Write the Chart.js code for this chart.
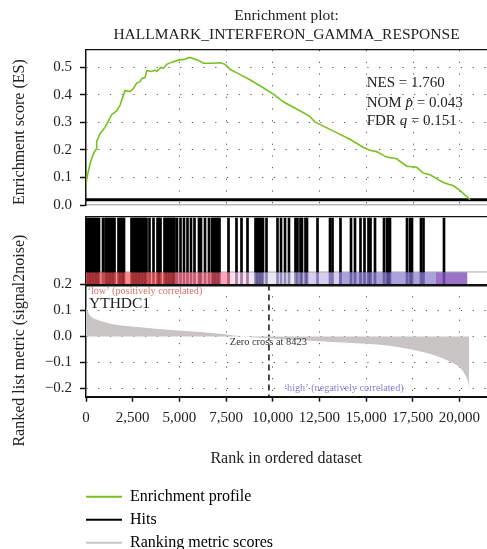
<!DOCTYPE html>
<html>
<head>
<meta charset="utf-8">
<script src="https://cdn.jsdelivr.net/npm/chart.js@4.4.1/dist/chart.umd.min.js"></script>
<style>
  html, body { margin: 0; padding: 0; background: #fff; overflow: hidden; }
  #page { position: relative; width: 487px; height: 549px; }
  #page canvas { position: absolute; left: 0; }
</style>
</head>
<body>
<div id="page">
  <canvas id="es-chart" width="487" height="222" style="top:0"></canvas>
  <canvas id="hits-chart" width="487" height="78" style="top:212px"></canvas>
  <canvas id="metric-chart" width="487" height="250" style="top:228px"></canvas>
  <canvas id="legend-chart" width="487" height="90" style="top:478px"></canvas>
</div>
<script>
const titleLines = ['Enrichment plot:', 'HALLMARK_INTERFERON_GAMMA_RESPONSE'];
const rankMax = 21450;
const xTicks = [0, 2500, 5000, 7500, 10000, 12500, 15000, 17500, 20000];
const esTicks = [0, 0.1, 0.2, 0.3, 0.4, 0.5];
const metricTicks = [0.2, 0.1, 0, -0.1, -0.2];

// running enrichment score
const esRanks = [0, 70, 214, 390, 535, 570, 750, 1020, 1195, 1373, 1640, 1822, 2090, 2358, 2535, 2712, 2894, 2980, 3162, 3250,
  3516, 3698, 3784, 4000, 4143, 4320, 4588, 5038, 5215, 5537, 5928, 6287, 6732, 7182, 7450, 7718, 8072, 8790, 9503, 10040,
  10575, 11610, 11970, 12240, 13400, 14113, 14826, 15185, 15540, 16080, 16616, 17150, 17690, 18040, 18400, 19114, 19650, 20008, 20545];
const esValues = [0.076, 0.105, 0.150, 0.185, 0.202, 0.231, 0.259, 0.282, 0.305, 0.328, 0.342, 0.363, 0.416, 0.412, 0.423, 0.443, 0.448, 0.460, 0.463, 0.488,
  0.485, 0.490, 0.485, 0.500, 0.497, 0.511, 0.519, 0.528, 0.528, 0.536, 0.528, 0.515, 0.515, 0.517, 0.511, 0.492, 0.480, 0.454, 0.425, 0.402,
  0.374, 0.336, 0.322, 0.302, 0.263, 0.239, 0.210, 0.199, 0.194, 0.174, 0.168, 0.141, 0.137, 0.116, 0.110, 0.082, 0.070, 0.053, 0.019];
const esBaseline = 0.019;

// positions of gene set members in the ranked list
const hitRanks = [53, 134, 214, 294, 374, 455, 535, 615, 695, 909, 1043, 1123, 1204, 1284, 1364, 1444, 1525,
  1738, 1819, 1899, 1979, 2033, 2434, 2514, 2594, 2675, 2755, 2835, 2915, 2995, 3076, 3156, 3236, 3397, 3611,
  3825, 3905, 3985, 4199, 4279, 4359, 4440, 4520, 4600, 4680, 4734, 4868, 5055, 5242, 5429, 5616, 5804, 6044,
  6151, 6365, 6579, 6740, 6820, 6900, 6981, 7061, 7141, 7623, 8050, 8318, 8639, 9067, 9147, 9227, 9307, 9388,
  9468, 9655, 10244, 10431, 10645, 10858, 11206, 11313, 11474, 11554, 11741, 11821, 12383, 13052, 13186, 13613,
  14175, 14389, 14683, 14897, 15111, 15218, 15459, 15940, 16100, 16181, 16261, 17170, 17331, 17438, 17919, 18053, 19149];

// colour bar under the hits
const bandStarts = [0, 4707, 7703, 8773, 11287, 13533, 18722, 20406, 21450];
const bandColors = ['#ff8a8a', '#ffa6bf', '#ffdde8', '#ece8f5', '#d6cdf0', '#aaa2de', '#9a72c8', 'rgba(0,0,0,0)'];

// ranked list metric (signal2noise)
const metricRanks = [0, 100, 215, 570, 1100, 1640, 2450, 3430, 4950, 6100, 7450, 8440, 10000, 12500, 15000, 16500,
  17500, 18700, 19570, 20000, 20290, 20470, 20530];
const metricValues = [0.112, 0.095, 0.081, 0.065, 0.053, 0.045, 0.038, 0.032, 0.023, 0.017, 0.009, 0.0, -0.009, -0.018,
  -0.028, -0.038, -0.051, -0.073, -0.099, -0.118, -0.144, -0.176, -0.205];
const metricMax = 0.2;
const metricMin = -0.2315;
const zeroCrossRank = 9800;

const legendLabels = ['Enrichment profile', 'Hits', 'Ranking metric scores'];

const GREEN = '#78c11f';
const GRAY = '#c9c5c5';
const INK = '#222';
const DOT = [1.2, 10.5];
const STRIPE_TOP = 0.194;
const HIT_TOP = 0.98;

Chart.defaults.font.family = '"Liberation Serif", "Times New Roman", serif';
Chart.defaults.color = INK;

const fixWidth = w => scale => { scale.width = w; };
const fixHeight = h => scale => { scale.height = h; };
const setTicks = values => scale => { scale.ticks = values.map(v => ({value: v})); };
const dotGrid = hidden => ctx => (ctx.tick && hidden.includes(ctx.tick.value)) ? 'rgba(0,0,0,0)' : '#555';
const fmtMetric = v => v === 0 ? '0.0' : (v < 0 ? '\u2212' : '') + Math.abs(v).toFixed(1);

// text written at data coordinates, parts can be italic
const notesPlugin = notes => ({
  id: 'notes',
  afterDatasetsDraw(chart) {
    const {ctx, scales: {x, y}} = chart;
    ctx.save();
    ctx.textAlign = 'left';
    ctx.textBaseline = 'alphabetic';
    notes.forEach(note => {
      let px = x.getPixelForValue(note.x);
      const py = y.getPixelForValue(note.y);
      ctx.fillStyle = note.color;
      note.parts.forEach(([text, italic]) => {
        ctx.font = `${italic ? 'italic ' : ''}${note.size}px "Liberation Serif"`;
        ctx.fillText(text, px, py);
        px += ctx.measureText(text).width;
      });
    });
    ctx.restore();
  }
});

const statNotes = [
  {x: 15015, y: 0.428, size: 15, color: INK, parts: [['NES = 1.760', false]]},
  {x: 15015, y: 0.355, size: 15, color: INK, parts: [['NOM ', false], ['p\u0302', true], [' = 0.043', false]]},
  {x: 15015, y: 0.292, size: 15, color: INK, parts: [['FDR ', false], ['q', true], [' = 0.151', false]]}
];

const metricNotes = [
  {x: 80, y: 0.163, size: 10.2, color: '#dc6f6a', parts: [['\u2018low\u2019 (positively correlated)', false]]},
  {x: 160, y: 0.11, size: 15.5, color: INK, parts: [['YTHDC1', false]]},
  {x: 7703, y: -0.0327, size: 10.4, color: '#333', parts: [['Zero cross at 8423', false]]},
  {x: 10591, y: -0.211, size: 10.2, color: '#8b80d6', parts: [['\u2018high\u2019 (negatively correlated)', false]]}
];

const hiddenAxis = (position, width) => ({
  type: 'linear', position, min: 0, max: rankMax, offset: false,
  afterFit: fixHeight(0),
  ticks: {display: false},
  grid: {display: false, offset: false},
  border: {color: '#111', width}
});

// enrichment score panel
new Chart(document.getElementById('es-chart'), {
  type: 'line',
  data: {
    datasets: [
      {label: 'Enrichment profile', data: esRanks.map((r, i) => ({x: r, y: esValues[i]})),
        borderColor: GREEN, borderWidth: 1.6, pointRadius: 0, tension: 0},
      {label: 'baseline', data: [{x: 0, y: esBaseline}, {x: rankMax, y: esBaseline}],
        borderColor: '#000', borderWidth: 3, pointRadius: 0}
    ]
  },
  options: {
    responsive: false,
    animation: false,
    layout: {padding: {left: 0, right: 0, top: 0, bottom: 8}},
    plugins: {
      legend: {display: false},
      tooltip: {enabled: false},
      title: {display: true, fullSize: false, text: titleLines, color: INK,
        font: {size: 15.5, weight: 'normal', lineHeight: 1.23}, padding: {top: 6.5, bottom: 5.4}}
    },
    scales: {
      x: {type: 'linear', min: 0, max: rankMax, afterBuildTicks: setTicks(xTicks), afterFit: fixHeight(0),
        ticks: {display: false}, grid: {color: dotGrid([0, 2500]), drawTicks: false},
        border: {color: '#bbb', width: 1.5, dash: DOT}},
      xTop: hiddenAxis('top', 1.2),
      y: {min: 0, max: 0.563, afterBuildTicks: setTicks(esTicks), afterFit: fixWidth(86),
        ticks: {color: INK, font: {size: 15}, padding: 8, autoSkip: false, callback: v => v.toFixed(1)},
        grid: {color: dotGrid([0]), tickColor: '#111', tickLength: 6, tickWidth: 1.5},
        border: {color: '#111', width: 1.5, dash: DOT},
        title: {display: true, align: 'start', text: 'Enrichment score (ES)', color: INK, font: {size: 16},
          padding: {top: 10, bottom: 0}}}
    }
  },
  plugins: [notesPlugin(statNotes)]
});

// hits and colour bar
new Chart(document.getElementById('hits-chart'), {
  type: 'bar',
  data: {
    datasets: [
      {type: 'line', label: 'stripe', data: bandStarts.map(r => ({x: r, y: STRIPE_TOP})), fill: {value: 0},
        borderColor: '#aaa', borderWidth: 1, pointRadius: 0, order: 3,
        segment: {backgroundColor: c => bandColors[c.p0DataIndex]}},
      {label: 'Hits', data: hitRanks.map(r => ({x: r, y: [STRIPE_TOP, HIT_TOP]})), backgroundColor: '#000',
        barThickness: 2, stack: 'hits', order: 1},
      {label: 'hit tint', data: hitRanks.map(r => ({x: r, y: [0, STRIPE_TOP]})),
        backgroundColor: c => (c.raw && c.raw.x < 8000) ? 'rgba(110,0,10,0.45)' : 'rgba(30,20,100,0.45)',
        barThickness: 2, stack: 'hits', order: 2}
    ]
  },
  options: {
    responsive: false,
    animation: false,
    layout: {padding: {left: 0, right: 0, top: 4.7, bottom: 4.7}},
    plugins: {legend: {display: false}, tooltip: {enabled: false}},
    scales: {
      x: hiddenAxis('bottom', 1.5),
      xTop: hiddenAxis('top', 1.2),
      y: {min: 0, max: 1, stacked: false, afterFit: fixWidth(86), ticks: {display: false}, grid: {display: false},
        border: {color: '#111', width: 1.5}}
    }
  }
});

// ranked list metric panel
new Chart(document.getElementById('metric-chart'), {
  type: 'line',
  data: {
    datasets: [
      {label: 'Ranking metric scores', data: metricRanks.map((r, i) => ({x: r, y: metricValues[i]})),
        fill: {value: 0}, backgroundColor: GRAY, borderColor: GRAY, borderWidth: 0, pointRadius: 0,
        cubicInterpolationMode: 'monotone'},
      {label: 'zero cross', data: [{x: zeroCrossRank, y: metricMax}, {x: zeroCrossRank, y: metricMin}],
        borderColor: '#111', borderWidth: 1.5, borderDash: [6, 4], pointRadius: 0}
    ]
  },
  options: {
    responsive: false,
    animation: false,
    layout: {padding: {left: 0, right: 0, top: 56.5, bottom: 10}},
    plugins: {legend: {display: false}, tooltip: {enabled: false}},
    scales: {
      x: {type: 'linear', min: 0, max: rankMax, afterBuildTicks: setTicks(xTicks), afterFit: fixHeight(71.3),
        ticks: {color: INK, font: {size: 15}, padding: 7, maxRotation: 0, autoSkip: false,
          callback: v => v.toLocaleString('en-US')},
        grid: {color: dotGrid([0, 2500]), tickColor: '#111', tickLength: 5, tickWidth: 1.5},
        border: {color: '#111', width: 2, dash: DOT},
        title: {display: true, text: 'Rank in ordered dataset', color: INK, font: {size: 16}, padding: {top: 0, bottom: 0}}},
      xTop: hiddenAxis('top', 2),
      y: {min: metricMin, max: metricMax, afterBuildTicks: setTicks(metricTicks), afterFit: fixWidth(86),
        ticks: {color: INK, font: {size: 15}, padding: 8, autoSkip: false, callback: fmtMetric},
        grid: {color: dotGrid([0.2]), tickColor: '#111', tickLength: 6, tickWidth: 1.5},
        border: {color: '#111', width: 1.5, dash: DOT},
        title: {display: true, text: 'Ranked list metric (signal2noise)', color: INK, font: {size: 16}, padding: {top: 10, bottom: 0}}}
    }
  },
  plugins: [notesPlugin(metricNotes)]
});

// legend
const legendColors = [GREEN, '#000', GRAY];
new Chart(document.getElementById('legend-chart'), {
  type: 'line',
  data: {datasets: legendLabels.map((label, i) => ({label, data: [], borderColor: legendColors[i]}))},
  options: {
    responsive: false,
    animation: false,
    layout: {padding: {left: 79, top: 3.7}},
    scales: {x: {display: false}, y: {display: false}},
    plugins: {
      tooltip: {enabled: false},
      legend: {
        position: 'left', align: 'start',
        labels: {
          boxWidth: 36, boxHeight: 2, padding: 7, color: INK, font: {size: 16},
          generateLabels: chart => chart.data.datasets.map((ds, i) => ({
            text: ds.label, fillStyle: ds.borderColor, strokeStyle: ds.borderColor, lineWidth: 0, hidden: false, datasetIndex: i
          }))
        }
      }
    }
  }
});
</script>
</body>
</html>
